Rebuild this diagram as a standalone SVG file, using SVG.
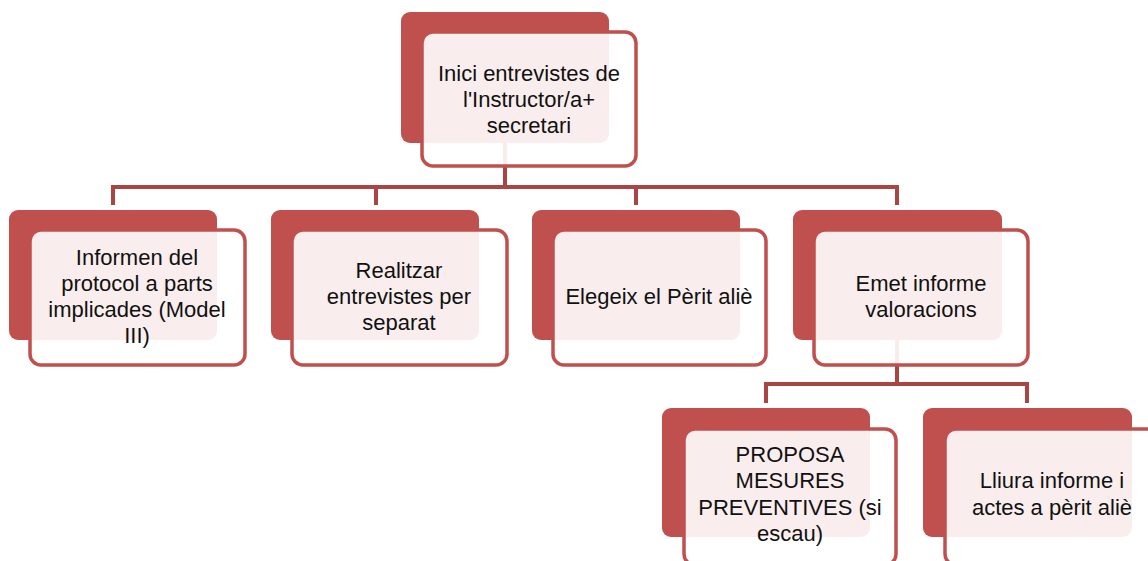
<svg xmlns="http://www.w3.org/2000/svg" width="1148" height="561" viewBox="0 0 1148 561">
<style>
.back{fill:#C0504D;}
.front{fill:#FFFFFF;fill-opacity:0.9;stroke:#C0504D;stroke-width:3.5;}
.conn{fill:none;stroke:#A94542;stroke-width:4;stroke-linejoin:miter;}
text{font-family:"Liberation Sans",Arial,sans-serif;font-size:22px;fill:#111;text-anchor:middle;}
</style>
<rect width="1148" height="561" fill="#FFFFFF"/>
<g id="connectors">
<path class="conn" d="M505,142 V187 M113,205 V187 H897 V205 M376,187 V205 M636,187 V205"/>
<path class="conn" d="M897,340 V384 M766,403 V384 H1027 V403"/>
</g>
<g id="n0">
<rect class="back" x="401" y="12" width="208" height="131" rx="9"/>
<rect class="front" x="422" y="32" width="214" height="134" rx="11"/>
<text x="529" y="81">Inici entrevistes de</text>
<text x="529" y="107">l'Instructor/a+</text>
<text x="529" y="133">secretari</text>
</g>
<g id="n1">
<rect class="back" x="9" y="210" width="208" height="130" rx="9"/>
<rect class="front" x="30" y="230" width="215" height="135" rx="11"/>
<text x="137" y="265">Informen del</text>
<text x="137" y="291">protocol a parts</text>
<text x="137" y="317">implicades (Model</text>
<text x="137" y="343">III)</text>
</g>
<g id="n2">
<rect class="back" x="271" y="210" width="208" height="130" rx="9"/>
<rect class="front" x="292" y="230" width="215" height="135" rx="11"/>
<text x="399" y="278">Realitzar</text>
<text x="399" y="304">entrevistes per</text>
<text x="399" y="330">separat</text>
</g>
<g id="n3">
<rect class="back" x="532" y="210" width="208" height="130" rx="9"/>
<rect class="front" x="553" y="230" width="213" height="135" rx="11"/>
<text x="659" y="304">Elegeix el Pèrit aliè</text>
</g>
<g id="n4">
<rect class="back" x="793" y="210" width="209" height="130" rx="9"/>
<rect class="front" x="814" y="230" width="214" height="135" rx="11"/>
<text x="921" y="291">Emet informe</text>
<text x="921" y="317">valoracions</text>
</g>
<g id="n5">
<rect class="back" x="662" y="408" width="208" height="129" rx="9"/>
<rect class="front" x="684" y="429" width="212" height="136" rx="11"/>
<text x="790" y="462">PROPOSA</text>
<text x="790" y="488">MESURES</text>
<text x="790" y="515">PREVENTIVES (si</text>
<text x="790" y="541">escau)</text>
</g>
<g id="n6">
<rect class="back" x="923" y="408" width="209" height="129" rx="9"/>
<rect class="front" x="945" y="429" width="215" height="136" rx="11"/>
<text x="1052" y="488">Lliura informe i</text>
<text x="1052" y="515">actes a pèrit aliè</text>
</g>
</svg>
